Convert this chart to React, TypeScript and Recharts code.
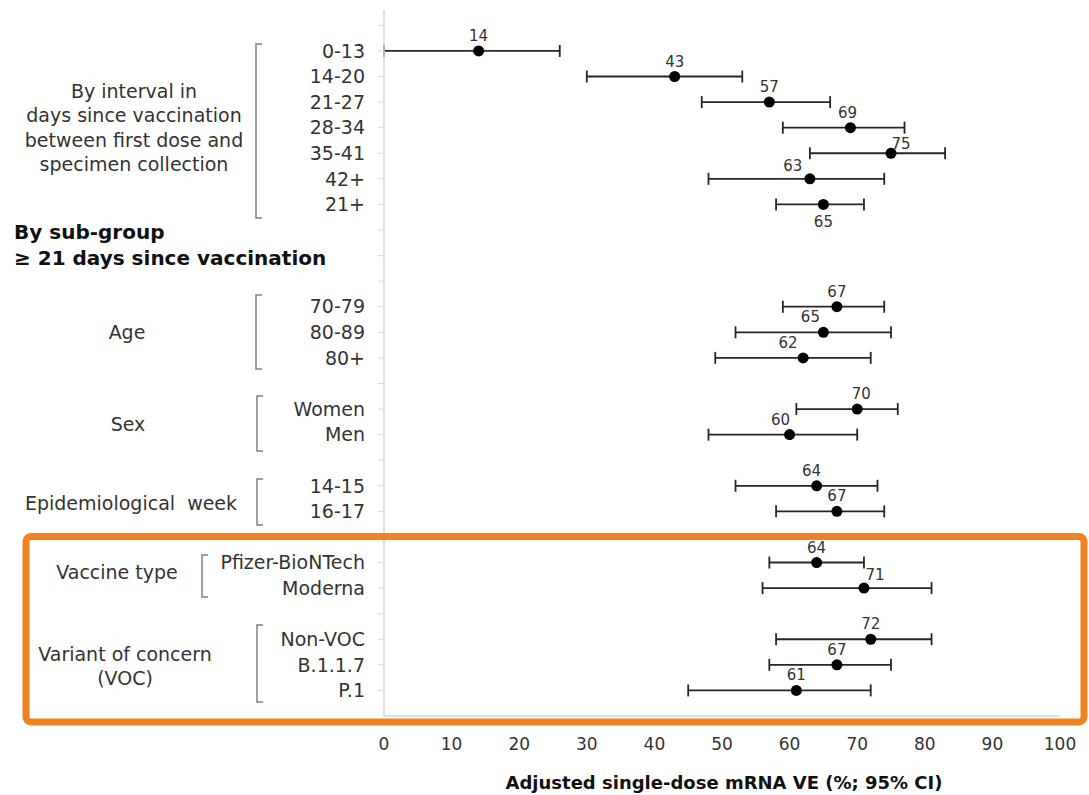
import React from "react";
import { ScatterChart, Scatter, XAxis, YAxis, ErrorBar } from "recharts";

// rows from top to bottom; "" = empty spacer row (still gets a tick mark)
const rowLabels = [
  "", "0-13", "14-20", "21-27", "28-34", "35-41", "42+", "21+",
  "", "", "",
  "70-79", "80-89", "80+",
  "",
  "Women", "Men",
  "",
  "14-15", "16-17",
  "",
  "Pfizer-BioNTech", "Moderna",
  "",
  "Non-VOC", "B.1.1.7", "P.1",
];

const ve = [
  null, 14, 43, 57, 69, 75, 63, 65,
  null, null, null,
  67, 65, 62,
  null,
  70, 60,
  null,
  64, 67,
  null,
  64, 71,
  null,
  72, 67, 61,
];

const ciLow = [
  null, 0, 30, 47, 59, 63, 48, 58,
  null, null, null,
  59, 52, 49,
  null,
  61, 48,
  null,
  52, 58,
  null,
  57, 56,
  null,
  58, 57, 45,
];

const ciHigh = [
  null, 26, 53, 66, 77, 83, 74, 71,
  null, null, null,
  74, 75, 72,
  null,
  76, 70,
  null,
  73, 74,
  null,
  71, 81,
  null,
  81, 75, 72,
];

const xTicks = [0, 10, 20, 30, 40, 50, 60, 70, 80, 90, 100];

// where a value label sits relative to the default spot above the dot
const labelNudge: Record<string, [number, number]> = {
  "28-34": [-3, 0],
  "35-41": [10, 6],
  "42+": [-17, 2],
  "21+": [0, 33],
  "80-89": [-13, 0],
  "80+": [-15, 0],
  "Women": [4, 0],
  "Men": [-9, 0],
  "14-15": [-5, 0],
  "Moderna": [11, 2],
};

const W = 1089;
const H = 795;
const FONT = '"DejaVu Sans", sans-serif';
const TEXT = "#333";
const GRID = "#d9d9d9";
const TOP = 10;
const BOTTOM = 716;
const Y_MAX = 27.6;

const nRows = rowLabels.length;
const yTicks = rowLabels.map((_, i) => nRows - i);
const rows = rowLabels
  .map((label, i) => ({
    label,
    pos: nRows - i,
    ve: ve[i],
    err: ve[i] == null ? null : [ve[i]! - ciLow[i]!, ciHigh[i]! - ve[i]!],
  }))
  .filter((r) => r.ve != null);

const groups = [
  { lines: ["By interval in", "days since vaccination", "between first dose and", "specimen collection"], cx: 134, y: 91, bx: 256, top: 44, bottom: 218 },
  { lines: ["Age"], cx: 127, y: 332, bx: 256, top: 295, bottom: 369 },
  { lines: ["Sex"], cx: 128, y: 424, bx: 257, top: 396, bottom: 451 },
  { lines: ["Epidemiological  week"], cx: 131, y: 503, bx: 257, top: 479, bottom: 525 },
  { lines: ["Vaccine type"], cx: 117, y: 572, bx: 202, top: 555, bottom: 597 },
  { lines: ["Variant of concern", "(VOC)"], cx: 125, y: 654, bx: 257, top: 625, bottom: 702 },
];

const Dot = (props: any) => {
  const { cx, cy, payload } = props;
  const [dx, dy] = labelNudge[payload.label] ?? [0, 0];
  return (
    <g>
      <circle cx={cx} cy={cy} r={5.5} fill="#000" />
      <text
        x={cx + dx}
        y={cy - 15 + dy}
        textAnchor="middle"
        dominantBaseline="central"
        fontSize={15}
        fill={TEXT}
        fontFamily={FONT}
      >
        {payload.ve}
      </text>
    </g>
  );
};

const Overlay = () => (
  <svg
    width={W}
    height={H}
    style={{ position: "absolute", left: 0, top: 0, pointerEvents: "none" }}
  >
    {groups.map((g, gi) => (
      <g key={gi}>
        {g.lines.map((line, li) => (
          <text
            key={li}
            x={g.cx}
            y={g.y + li * 24.3}
            textAnchor="middle"
            dominantBaseline="central"
            fontSize={19}
            fill={TEXT}
            fontFamily={FONT}
            style={{ whiteSpace: "pre" }}
          >
            {line}
          </text>
        ))}
        <path
          d={`M${g.bx + 6},${g.top} H${g.bx} V${g.bottom} H${g.bx + 6}`}
          fill="none"
          stroke="#808080"
          strokeWidth={1.5}
        />
      </g>
    ))}
    <text x={14} y={232} dominantBaseline="central" fontSize={20} fontWeight="bold" fill="#111" fontFamily={FONT}>
      By sub-group
    </text>
    <text x={14} y={258} dominantBaseline="central" fontSize={20} fontWeight="bold" fill="#111" fontFamily={FONT}>
      ≥ 21 days since vaccination
    </text>
    <text x={724} y={782} textAnchor="middle" dominantBaseline="central" fontSize={18} fontWeight="bold" fill="#111" fontFamily={FONT}>
      Adjusted single-dose mRNA VE (%; 95% CI)
    </text>
    <rect x={26} y={536.5} width={1058} height={185.5} rx={5} fill="none" stroke="#F28123" strokeWidth={7} />
  </svg>
);

export default function App() {
  return (
    <div style={{ position: "absolute", left: 0, top: 0, width: W, height: H, background: "#fff" }}>
      <ScatterChart width={W} height={H} margin={{ top: TOP, right: 29, bottom: H - BOTTOM - 40, left: 0 }}>
        <XAxis
          type="number"
          dataKey="ve"
          domain={[0, 100]}
          ticks={xTicks}
          interval={0}
          height={40}
          allowDataOverflow
          axisLine={{ stroke: GRID, strokeWidth: 1.5 }}
          tickLine={false}
          tickSize={6}
          tickMargin={16}
          tick={{ fill: TEXT, fontSize: 17, fontFamily: FONT }}
        />
        <YAxis
          type="number"
          dataKey="pos"
          domain={[0, Y_MAX]}
          ticks={yTicks}
          interval={0}
          width={384}
          allowDataOverflow
          tickFormatter={(v: number) => rowLabels[nRows - v]}
          axisLine={{ stroke: GRID, strokeWidth: 1.5 }}
          tickLine={{ stroke: GRID }}
          tickSize={6}
          tickMargin={13}
          tick={{ fill: TEXT, fontSize: 19, fontFamily: FONT }}
        />
        <Scatter data={rows} shape={Dot} isAnimationActive={false}>
          <ErrorBar dataKey="err" direction="x" width={6} strokeWidth={1.8} stroke="#262626" />
        </Scatter>
      </ScatterChart>
      <Overlay />
    </div>
  );
}
